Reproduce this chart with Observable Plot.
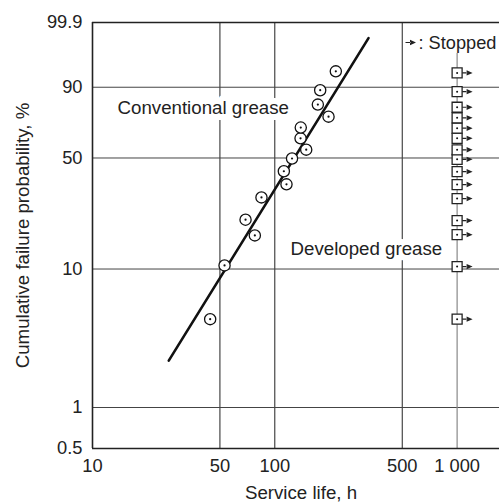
<!DOCTYPE html>
<html>
<head>
<meta charset="utf-8">
<script src="https://cdn.jsdelivr.net/npm/d3@7"></script>
<script src="https://cdn.jsdelivr.net/npm/@observablehq/plot@0.6"></script>
<style>
  html, body { margin: 0; padding: 0; background: white; }
  #chart { width: 499px; height: 502px; overflow: hidden; }
</style>
</head>
<body>
<div id="chart"></div>
<script>
// ---- data ----
const xTicks = [10, 50, 100, 500, 1000];
const xTickLabels = ["10", "50", "100", "500", "1 000"];
const yTicks = [0.5, 1, 10, 50, 90, 99.9];
const yTickLabels = ["0.5", "1", "10", "50", "90", "99.9"];
const xGrid = [50, 100, 500];
const yGrid = [1, 10, 50, 90];

// Conventional grease: service life (h) and cumulative failure probability (%)
const convLife = [44.2, 53.0, 77.7, 69.1, 84.5, 115.9, 112.1, 124.3, 148.7, 138.4, 138.8, 197.1, 172.2, 177.4, 216.1];
const convProb = [4.4, 10.6, 17.0, 21.6, 29.9, 35.8, 42.5, 49.7, 55.0, 62.0, 68.7, 75.3, 82.0, 88.8, 95.1];

// Developed grease: all stopped (suspended) at 1000 h
const devLife = [1000, 1000, 1000, 1000, 1000, 1000, 1000, 1000, 1000, 1000, 1000, 1000, 1000, 1000, 1000];
const devProb = [4.4, 10.4, 17.2, 21.3, 29.4, 35.7, 42.3, 49.2, 54.9, 62.0, 68.3, 74.6, 80.6, 88.2, 94.7];

// Weibull fit line for conventional grease
const fitLife = [26.2, 326.6];
const fitProb = [2.2, 99.5];

// vertical line at 1000 h runs from the bottom up to just under the legend
const stopLineLife = [1000];
const stopLineProb = [0.5, 98.3];

// ---- helpers ----
const W = p => Math.log(-Math.log(1 - p / 100)); // Weibull probability transform
const yTickMap = new Map(yTicks.map((t, i) => [W(t), yTickLabels[i]]));
const xTickMap = new Map(xTicks.map((t, i) => [t, xTickLabels[i]]));

const conv = convLife.map((d, i) => ({life: d, w: W(convProb[i])}));
const dev = devLife.map((d, i) => ({life: d, w: W(devProb[i])}));
const fit = fitLife.map((d, i) => ({life: d, w: W(fitProb[i])}));

// right-pointing "stopped" arrow marker (shaft + filled head), drawn relative to the point
const arrowSymbol = {
  draw(ctx) {
    ctx.moveTo(5, -0.6); ctx.lineTo(10, -0.6); ctx.lineTo(10, 0.6); ctx.lineTo(5, 0.6); ctx.closePath();
    ctx.moveTo(15.5, 0); ctx.lineTo(9.5, -2.7); ctx.lineTo(9.5, 2.7); ctx.closePath();
  }
};

const font = "'Liberation Sans', Arial, Helvetica, sans-serif";
const yMin = W(0.5), yMax = W(99.9);

const chart = Plot.plot({
  width: 499,
  height: 502,
  marginLeft: 92,
  marginRight: 0,
  marginTop: 22,
  marginBottom: 54,
  style: {fontFamily: font, fontSize: "18.3px", color: "#222", background: "white"},
  x: {
    type: "log",
    domain: [10, 1708],
    ticks: xTicks,
    tickFormat: d => xTickMap.get(d),
    tickSize: 0,
    tickPadding: 10,
    label: null
  },
  y: {
    domain: [yMin, yMax],
    ticks: yTicks.map(W),
    tickFormat: d => yTickMap.get(d),
    tickSize: 0,
    tickPadding: 10,
    label: null
  },
  marks: [
    // grid
    Plot.ruleX(xGrid, {stroke: "#222", strokeWidth: 1}),
    Plot.ruleY(yGrid.map(W), {stroke: "#444", strokeWidth: 1}),
    Plot.ruleX(stopLineLife, {y1: W(stopLineProb[0]), y2: W(stopLineProb[1]), stroke: "#888", strokeWidth: 1.2}),
    // frame (left, top, bottom)
    Plot.ruleX([10], {stroke: "#222", strokeWidth: 1.6}),
    Plot.ruleY([yMin, yMax], {stroke: "#222", strokeWidth: 1.6}),
    // labels with white halo (gaps in the grid)
    Plot.text(["Conventional grease"], {
      frameAnchor: "top-left", dx: 25, dy: 85.3, textAnchor: "start", lineAnchor: "middle",
      fontSize: 18.7, fill: "#222", stroke: "white", strokeWidth: 12, paintOrder: "stroke"
    }),
    Plot.text(["Developed grease"], {
      frameAnchor: "top-left", dx: 198, dy: 226.5, textAnchor: "start", lineAnchor: "middle",
      fontSize: 18.7, fill: "#222", stroke: "white", strokeWidth: 12, paintOrder: "stroke"
    }),
    Plot.text([": Stopped"], {
      frameAnchor: "top-left", dx: 326, dy: 20.3, textAnchor: "start", lineAnchor: "middle",
      fontSize: 18.2, fill: "#222"
    }),
    Plot.dot([0], {frameAnchor: "top-left", dx: 308, dy: 20, symbol: arrowSymbol, r: 3, fill: "#222", stroke: "none"}),
    // axis titles
    Plot.text(["Service life, h"], {
      frameAnchor: "bottom", dx: 5, dy: 44.5, textAnchor: "middle", lineAnchor: "middle",
      fontSize: 18.7, fill: "#222"
    }),
    Plot.text(["Cumulative failure probability, %"], {
      frameAnchor: "left", rotate: -90, dx: -69.6, textAnchor: "middle", lineAnchor: "middle",
      fontSize: 18.7, fill: "#222"
    }),
    // Weibull fit line
    Plot.line(fit, {x: "life", y: "w", stroke: "#111", strokeWidth: 2.6}),
    // conventional grease points
    Plot.dot(conv, {x: "life", y: "w", r: 5.6, fill: "white", stroke: "#111", strokeWidth: 1.3}),
    Plot.dot(conv, {x: "life", y: "w", r: 1.1, fill: "#111", stroke: "none"}),
    // developed grease (stopped) points
    Plot.dot(dev, {x: "life", y: "w", symbol: arrowSymbol, r: 3, fill: "#222", stroke: "none"}),
    Plot.dot(dev, {x: "life", y: "w", symbol: "square", r: 5.64, fill: "white", stroke: "#222", strokeWidth: 1.3}),
    Plot.dot(dev, {x: "life", y: "w", r: 1, fill: "#111", stroke: "none"})
  ]
});
document.getElementById("chart").appendChild(chart);
</script>
</body>
</html>
